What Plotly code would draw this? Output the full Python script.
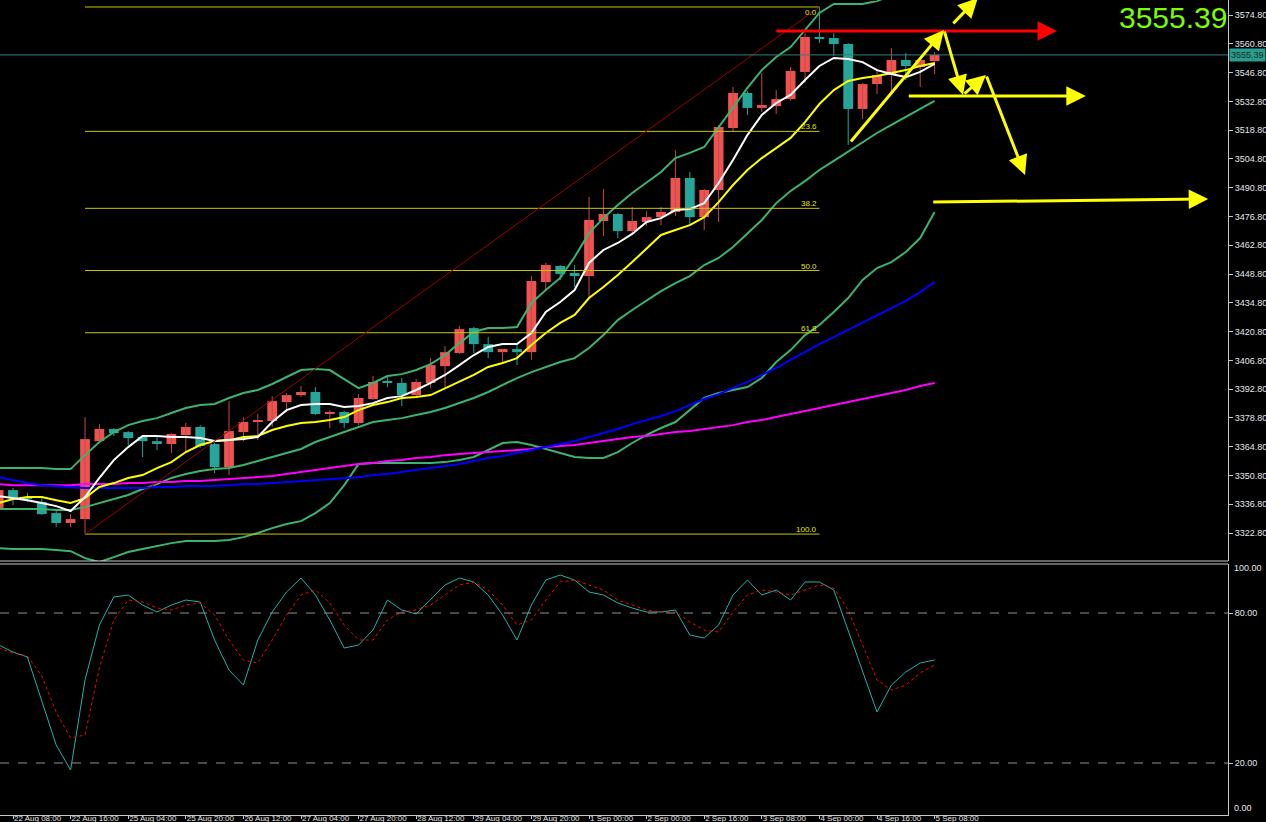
import plotly.graph_objects as go

# ---------------- data (H4 candles, index -1 .. 64) ----------------
candle_idx = list(range(-1, 65))
open_ = [3335.0, 3343.7, 3340.3, 3337.9, 3332.5, 3327.7, 3329.6, 3367.5, 3373.4, 3371.9,
         3369.5, 3367.5, 3366.1, 3370.5, 3374.4, 3366.1, 3354.9, 3371.9, 3376.8, 3377.3,
         3386.5, 3389.9, 3391.4, 3380.7, 3381.7, 3376.3, 3388.0, 3396.8, 3395.8, 3389.9,
         3395.8, 3404.0, 3410.4, 3422.5, 3414.7, 3410.8, 3412.3, 3410.8, 3444.9, 3452.7,
         3449.3, 3447.8, 3474.6, 3478.0, 3469.7, 3474.1, 3476.5, 3479.0, 3495.5, 3476.5,
         3489.7, 3519.8, 3536.9, 3529.6, 3530.5, 3533.9, 3547.1, 3564.1, 3563.6, 3560.7,
         3529.1, 3541.2, 3545.6, 3552.9, 3549.5, 3552.4]
high = [3344.7, 3344.7, 3342.3, 3339.8, 3333.5, 3332.0, 3379.2, 3375.8, 3373.9, 3372.4,
        3370.0, 3369.5, 3371.4, 3376.3, 3375.3, 3366.6, 3387.0, 3379.2, 3380.7, 3389.4,
        3390.9, 3394.3, 3393.8, 3382.6, 3382.2, 3390.4, 3399.2, 3398.7, 3398.2, 3397.7,
        3407.9, 3413.8, 3423.5, 3423.0, 3418.1, 3412.5, 3414.3, 3447.8, 3454.2, 3453.2,
        3453.2, 3486.3, 3490.2, 3478.5, 3481.4, 3479.4, 3481.4, 3509.1, 3498.4, 3490.2,
        3521.3, 3539.8, 3537.8, 3546.6, 3538.3, 3549.5, 3566.0, 3578.7, 3566.0, 3561.2,
        3541.7, 3548.0, 3558.7, 3556.3, 3553.3, 3556.8]
low = [3334.0, 3336.4, 3337.9, 3331.6, 3325.7, 3325.7, 3322.3, 3366.5, 3370.0, 3365.6,
       3359.8, 3363.2, 3361.7, 3362.2, 3364.2, 3352.0, 3351.0, 3367.5, 3368.0, 3374.4,
       3381.7, 3388.9, 3380.2, 3373.9, 3373.9, 3375.3, 3387.5, 3393.8, 3384.6, 3388.5,
       3393.3, 3393.8, 3409.9, 3410.4, 3407.9, 3406.0, 3404.5, 3407.0, 3441.0, 3445.9,
       3442.5, 3437.1, 3467.3, 3466.3, 3467.8, 3472.2, 3472.6, 3477.0, 3472.6, 3470.2,
       3474.1, 3517.9, 3526.2, 3527.6, 3526.6, 3533.0, 3541.7, 3561.2, 3554.9, 3511.6,
       3524.2, 3536.4, 3536.9, 3543.2, 3539.8, 3546.1]
close = [3343.7, 3339.8, 3339.6, 3332.0, 3327.7, 3329.6, 3368.5, 3373.4, 3371.4, 3369.0,
         3367.5, 3366.1, 3371.0, 3374.4, 3365.1, 3354.9, 3372.4, 3376.8, 3377.8, 3387.0,
         3389.9, 3391.4, 3380.7, 3381.7, 3376.3, 3388.5, 3396.3, 3395.8, 3389.9, 3396.3,
         3404.5, 3410.8, 3422.0, 3414.7, 3410.8, 3412.3, 3410.8, 3445.4, 3453.2, 3448.8,
         3447.8, 3475.1, 3478.0, 3469.7, 3474.6, 3476.5, 3479.0, 3495.5, 3476.5, 3489.7,
         3520.3, 3536.9, 3529.6, 3531.0, 3533.9, 3547.6, 3564.1, 3563.1, 3560.7, 3529.1,
         3541.2, 3545.6, 3552.9, 3550.0, 3552.9, 3555.39]

ma_white = [3340.8, 3339.8, 3338.8, 3337.4, 3335.9, 3333.5, 3340.3, 3349.6, 3358.3, 3364.6,
            3370.0, 3370.0, 3369.5, 3369.5, 3369.0, 3367.6, 3368.0, 3368.5, 3369.5, 3376.8,
            3382.6, 3385.1, 3385.6, 3385.6, 3384.1, 3384.6, 3386.0, 3388.5, 3389.4, 3392.4,
            3395.8, 3399.7, 3404.5, 3409.4, 3413.3, 3414.7, 3414.7, 3420.1, 3430.3, 3435.2,
            3441.0, 3454.2, 3460.5, 3463.9, 3468.3, 3474.1, 3476.0, 3479.9, 3480.4, 3483.3,
            3493.1, 3504.3, 3516.4, 3526.2, 3532.0, 3535.9, 3543.2, 3550.0, 3553.9, 3553.4,
            3551.9, 3548.0, 3546.1, 3544.6, 3547.1, 3551.0]
ma_yellow = [3337.4, 3339.3, 3340.3, 3340.3, 3338.8, 3337.4, 3339.8, 3345.2, 3347.1, 3349.6,
             3351.0, 3354.4, 3357.3, 3362.2, 3365.6, 3367.6, 3368.0, 3369.5, 3370.0, 3372.9,
             3374.9, 3376.3, 3376.8, 3377.8, 3379.2, 3382.6, 3385.1, 3386.5, 3388.5, 3389.0,
             3389.9, 3393.3, 3396.3, 3399.7, 3403.6, 3405.5, 3407.9, 3414.3, 3420.1, 3425.0,
             3428.9, 3437.1, 3442.5, 3448.3, 3454.6, 3461.4, 3467.8, 3470.2, 3472.6, 3476.5,
             3483.8, 3492.1, 3499.4, 3505.2, 3510.1, 3515.0, 3522.7, 3531.5, 3538.3, 3542.7,
             3544.2, 3545.1, 3546.6, 3548.0, 3550.0, 3551.5]
bb_upper = [3354.4, 3354.4, 3354.4, 3354.4, 3353.9, 3353.9, 3360.7, 3367.1, 3371.9, 3375.3,
            3377.3, 3378.7, 3381.2, 3383.6, 3385.1, 3385.6, 3388.5, 3390.9, 3392.4, 3395.3,
            3398.7, 3402.1, 3402.6, 3402.1, 3397.7, 3393.3, 3395.8, 3399.2, 3400.1, 3402.1,
            3405.0, 3409.4, 3415.2, 3420.6, 3422.5, 3422.5, 3423.0, 3434.7, 3441.0, 3446.9,
            3457.1, 3468.7, 3476.0, 3482.4, 3488.2, 3493.1, 3498.4, 3505.2, 3507.7, 3510.6,
            3520.3, 3529.6, 3539.3, 3548.0, 3554.4, 3559.2, 3567.5, 3575.8, 3580.2, 3580.2,
            3580.2, 3581.6, 3584.5, 3587.0, 3588.9, 3590.9]
bb_middle = [3334.5, 3334.5, 3334.5, 3334.5, 3334.0, 3334.0, 3335.4, 3337.4, 3339.3, 3341.3,
             3344.2, 3346.6, 3349.6, 3351.5, 3353.0, 3353.9, 3354.4, 3355.9, 3357.8, 3359.8,
             3361.7, 3363.7, 3367.1, 3369.5, 3371.9, 3374.4, 3376.8, 3377.8, 3378.7, 3380.2,
             3381.7, 3383.6, 3386.0, 3388.5, 3391.4, 3394.8, 3398.2, 3401.1, 3403.6, 3406.0,
             3407.9, 3412.8, 3419.1, 3426.4, 3431.3, 3436.1, 3440.5, 3444.4, 3447.8, 3453.2,
             3456.6, 3461.9, 3468.3, 3475.1, 3483.3, 3489.2, 3494.0, 3499.4, 3503.8, 3508.2,
             3513.0, 3517.4, 3521.3, 3525.2, 3529.1, 3533.0]
bb_lower = [3315.5, 3315.0, 3315.0, 3315.0, 3314.5, 3314.0, 3310.6, 3308.7, 3311.1, 3313.6,
            3315.0, 3316.5, 3317.9, 3318.9, 3318.9, 3318.9, 3319.4, 3320.8, 3322.8, 3325.2,
            3327.2, 3328.6, 3332.5, 3337.4, 3346.1, 3356.4, 3356.9, 3356.9, 3356.9, 3356.9,
            3356.9, 3357.3, 3358.3, 3359.8, 3363.2, 3366.6, 3367.1, 3365.6, 3363.7, 3361.7,
            3359.8, 3359.3, 3359.3, 3362.2, 3366.6, 3370.5, 3373.9, 3376.8, 3382.6, 3388.5,
            3390.9, 3392.4, 3393.8, 3398.2, 3406.0, 3411.8, 3419.1, 3424.0, 3430.3, 3437.1,
            3445.9, 3451.7, 3454.6, 3459.5, 3466.3, 3479.0]
ma_blue = [3350.0, 3348.6, 3347.1, 3346.1, 3345.7, 3345.2, 3344.7, 3344.7, 3344.7, 3344.7,
           3344.7, 3345.2, 3345.2, 3345.7, 3345.7, 3345.7, 3346.1, 3346.6, 3346.6, 3347.1,
           3347.6, 3348.1, 3348.6, 3349.1, 3349.6, 3350.0, 3351.0, 3351.5, 3352.5, 3353.4,
           3354.4, 3355.4, 3356.4, 3357.8, 3359.3, 3360.3, 3361.7, 3363.2, 3364.6, 3366.1,
           3367.6, 3369.5, 3371.4, 3373.4, 3375.8, 3377.8, 3379.7, 3382.1, 3385.1, 3388.0,
           3390.4, 3393.3, 3396.3, 3399.7, 3403.1, 3407.0, 3410.9, 3414.7, 3418.1, 3421.6,
           3425.0, 3428.4, 3431.8, 3435.7, 3440.0, 3444.9]
ma_magenta = [3346.6, 3346.1, 3346.1, 3346.1, 3346.1, 3346.1, 3346.6, 3346.6, 3346.6, 3347.1,
              3347.1, 3347.6, 3347.6, 3348.1, 3348.1, 3348.6, 3349.1, 3349.6, 3350.0, 3350.5,
              3351.5, 3352.5, 3353.4, 3354.4, 3355.4, 3356.4, 3356.9, 3357.8, 3358.3, 3359.3,
              3359.8, 3360.7, 3361.2, 3361.7, 3362.2, 3362.7, 3363.2, 3363.7, 3364.6, 3365.1,
              3365.6, 3366.6, 3367.6, 3368.5, 3369.5, 3370.0, 3371.0, 3371.9, 3372.4, 3373.4,
              3374.4, 3375.3, 3376.8, 3377.8, 3379.2, 3380.7, 3382.1, 3383.6, 3385.1, 3386.5,
              3388.0, 3389.4, 3390.9, 3392.4, 3394.3, 3395.8]

stoch_main = [67.2, 64.4, 62.4, 45.2, 27.2, 17.2, 53.2, 75.2, 86.4, 87.2,
              83.2, 80.4, 83.2, 85.2, 84.4, 69.2, 57.2, 51.2, 69.2, 80.4,
              88.4, 94.0, 87.2, 77.2, 66.0, 67.2, 73.2, 85.2, 81.2, 79.6,
              85.2, 91.2, 94.0, 92.4, 87.2, 79.2, 69.2, 83.2, 93.2, 95.2,
              93.2, 88.4, 87.2, 84.0, 82.0, 80.4, 80.4, 81.2, 71.2, 70.0,
              75.2, 87.2, 93.2, 87.2, 89.2, 85.2, 92.4, 92.4, 89.2, 73.2,
              57.2, 40.4, 51.2, 56.4, 60.0, 61.2]
stoch_signal = [66.0, 64.0, 62.8, 54.8, 40.4, 30.0, 31.2, 58.0, 77.2, 85.2,
                84.4, 82.0, 81.2, 83.2, 84.0, 79.2, 69.2, 61.2, 60.0, 69.2,
                79.2, 87.2, 89.2, 84.0, 75.2, 69.2, 69.2, 77.2, 80.4, 81.2,
                83.2, 87.2, 91.2, 92.4, 89.2, 83.2, 75.2, 77.2, 85.2, 92.4,
                93.2, 91.2, 89.2, 85.2, 83.2, 81.2, 80.4, 80.4, 76.4, 73.2,
                72.4, 80.4, 87.2, 89.2, 88.4, 87.2, 89.2, 91.2, 90.0, 81.2,
                67.2, 53.2, 49.2, 51.2, 56.0, 59.2]

time_tick_idx = list(range(0, 65, 4))
time_tick_labels = ["22 Aug 08:00", "22 Aug 16:00", "25 Aug 04:00", "25 Aug 20:00",
                    "26 Aug 12:00", "27 Aug 04:00", "27 Aug 20:00", "28 Aug 12:00",
                    "29 Aug 04:00", "29 Aug 20:00", "1 Sep 00:00", "2 Sep 00:00",
                    "2 Sep 16:00", "3 Sep 08:00", "4 Sep 00:00", "4 Sep 16:00", "5 Sep 08:00"]
price_ticks = [3322.8 + 14 * k for k in range(19)]
stoch_levels = [20, 80]
stoch_bounds = [0, 100]

fib_levels = [0.0, 23.6, 38.2, 50.0, 61.8, 100.0]
fib_low, fib_high = 3322.3, 3578.7
fib_start_idx, fib_end_idx = 5, 56

last_price = close[-1]

# hand-drawn arrows: (tail x, tail price, head x, head price, color)
drawn_arrows = [
    (52.9, 3567.0, 72.5, 3567.0, "#FF0000"),
    (62.1, 3535.4, 74.5, 3535.4, "#FFFF00"),
    (63.8, 3483.8, 83.0, 3485.3, "#FFFF00"),
    (58.1, 3512.5, 64.65, 3567.5, "#FFFF00"),
    (64.65, 3567.5, 65.97, 3535.9, "#FFFF00"),
    (65.97, 3535.9, 67.57, 3545.6, "#FFFF00"),
    (67.57, 3545.6, 70.28, 3497.0, "#FFFF00"),
    (65.2, 3570.0, 67.0, 3583.1, "#FFFF00"),
]

# ---------------- styling ----------------
UP_COL = "#EF5350"
UP_WICK = "#C64848"
DN_COL = "#26A69A"
AXIS_COL = "#C8C8C8"
TXT_COL = "#E6E6E6"
FONT = "Liberation Sans"

fig = go.Figure()

up = [k for k in range(len(candle_idx)) if close[k] >= open_[k]]
dn = [k for k in range(len(candle_idx)) if close[k] < open_[k]]


def wick_xy(sel):
    xs, ys = [], []
    for k in sel:
        xs += [candle_idx[k], candle_idx[k], None]
        ys += [low[k], high[k], None]
    return xs, ys


for sel, col in ((up, UP_WICK), (dn, DN_COL)):
    wx, wy = wick_xy(sel)
    fig.add_trace(go.Scatter(x=wx, y=wy, mode="lines", line=dict(color=col, width=1),
                             hoverinfo="skip", xaxis="x", yaxis="y"))

for sel, col in ((up, UP_COL), (dn, DN_COL)):
    fig.add_trace(go.Bar(
        x=[candle_idx[k] for k in sel],
        base=[min(open_[k], close[k]) for k in sel],
        y=[max(abs(close[k] - open_[k]), 0.5) for k in sel],
        width=0.68, marker=dict(color=col, line=dict(width=0)),
        hoverinfo="skip", xaxis="x", yaxis="y"))

for series, col in ((bb_upper, "#3CB371"), (bb_middle, "#3CB371"), (bb_lower, "#3CB371"),
                    (ma_magenta, "#FF00FF"), (ma_blue, "#0000FF"),
                    (ma_yellow, "#FFFF00"), (ma_white, "#FFFFFF")):
    fig.add_trace(go.Scatter(x=candle_idx, y=series, mode="lines",
                             line=dict(color=col, width=2), hoverinfo="skip",
                             xaxis="x", yaxis="y"))

fig.add_trace(go.Scatter(x=candle_idx, y=stoch_main, mode="lines",
                         line=dict(color="#20B2AA", width=1), xaxis="x", yaxis="y2"))
fig.add_trace(go.Scatter(x=candle_idx, y=stoch_signal, mode="lines",
                         line=dict(color="#FF0000", width=1, dash="dot"), xaxis="x", yaxis="y2"))

shapes = []
annotations = []

# fibonacci
fib_span = fib_high - fib_low
for lvl in fib_levels:
    p = fib_high - lvl / 100.0 * fib_span
    shapes.append(dict(type="line", xref="x", yref="y", x0=fib_start_idx, x1=fib_end_idx,
                       y0=p, y1=p, line=dict(color="#C8C800", width=1), layer="above"))
    top_level = lvl == 0.0
    annotations.append(dict(xref="x", yref="y", x=fib_end_idx - 0.1, y=p, text=f"{lvl:.1f}",
                            showarrow=False, xanchor="right",
                            yanchor="top" if top_level else "bottom",
                            font=dict(family=FONT, size=8, color="#E6E600"),
                            borderpad=0, yshift=0 if top_level else -1))
shapes.append(dict(type="line", xref="x", yref="y", x0=fib_start_idx, y0=fib_low,
                   x1=fib_end_idx, y1=fib_high, line=dict(color="#9A0000", width=1)))

# current price line
shapes.append(dict(type="line", xref="paper", yref="y", x0=0, x1=1, y0=last_price,
                   y1=last_price, line=dict(color="#2F8080", width=1)))

# stochastic levels
for lv in stoch_levels:
    shapes.append(dict(type="line", xref="paper", yref="y2", x0=0, x1=1, y0=lv, y1=lv,
                       line=dict(color="#909090", width=1, dash="dash")))

# stochastic window bound labels (MT4 keeps them just inside the window)
for bound in stoch_bounds:
    inside = 2 if bound == 0 else -2
    annotations.append(dict(xref="paper", yref="y2", x=1, y=bound + inside, xanchor="left",
                            yanchor="middle", text=f"{bound:.2f}", showarrow=False,
                            xshift=5, borderpad=0,
                            font=dict(family=FONT, size=9, color=TXT_COL)))

# panel separators
MAIN_BOTTOM = 1 - 561 / 815
STOCH_TOP = 1 - 564 / 815
for yy in (MAIN_BOTTOM, STOCH_TOP):
    shapes.append(dict(type="line", xref="paper", yref="paper", x0=0, x1=1, y0=yy, y1=yy,
                       line=dict(color=AXIS_COL, width=1)))

# drawn arrows
for (x0, y0, x1, y1, col) in drawn_arrows:
    annotations.append(dict(xref="x", yref="y", axref="x", ayref="y", x=x1, y=y1,
                            ax=x0, ay=y0, text="", showarrow=True, arrowhead=2,
                            arrowsize=1.3, arrowwidth=3, arrowcolor=col, standoff=0))

# price labels
annotations.append(dict(xref="paper", yref="paper", x=1, y=1, xanchor="right", yanchor="top",
                        text=f"{last_price:.2f}", showarrow=False, borderpad=0,
                        font=dict(family=FONT, size=30, color="#7CFC00")))
annotations.append(dict(xref="paper", yref="y", x=1, y=last_price, xanchor="left",
                        yanchor="middle", text=f"{last_price:.2f}", showarrow=False,
                        bgcolor="#2A9D8F", borderpad=1, xshift=1,
                        font=dict(family=FONT, size=9, color="#0A2A2A")))

fig.update_layout(
    width=1266, height=822,
    margin=dict(l=0, r=38, t=0, b=7, autoexpand=False),
    paper_bgcolor="#000000", plot_bgcolor="#000000",
    showlegend=False, barmode="overlay", hovermode=False,
    xaxis=dict(domain=[0, 1], range=[-0.903, 84.375], anchor="y2", automargin=False,
               tickmode="array", tickvals=time_tick_idx, ticktext=time_tick_labels,
               ticks="outside", ticklen=3, tickcolor=AXIS_COL,
               ticklabelposition="outside right", ticklabelstandoff=-5,
               showline=True, linecolor=AXIS_COL, linewidth=1,
               showgrid=False, zeroline=False,
               tickfont=dict(family=FONT, size=8, color=TXT_COL)),
    yaxis=dict(domain=[MAIN_BOTTOM, 1], range=[3309.2, 3582.1], side="right", anchor="x",
               automargin=False,
               tickmode="array", tickvals=price_ticks,
               ticktext=[f"{v:.2f}" for v in price_ticks],
               ticks="outside", ticklen=4, tickcolor=AXIS_COL,
               showline=True, linecolor=AXIS_COL, linewidth=1,
               showgrid=False, zeroline=False,
               tickfont=dict(family=FONT, size=9, color=TXT_COL)),
    yaxis2=dict(domain=[0, STOCH_TOP], range=[-0.8, 99.6], side="right", anchor="x",
                automargin=False,
                tickmode="array", tickvals=stoch_levels,
                ticktext=[f"{v:.2f}" for v in stoch_levels],
                ticks="outside", ticklen=4, tickcolor=AXIS_COL,
                showline=True, linecolor=AXIS_COL, linewidth=1,
                showgrid=False, zeroline=False,
                tickfont=dict(family=FONT, size=9, color=TXT_COL)),
    shapes=shapes, annotations=annotations,
)

fig.write_html("out.html", config={"displayModeBar": False},
               post_script="document.body.style.margin='0';document.body.style.background='#000';")
